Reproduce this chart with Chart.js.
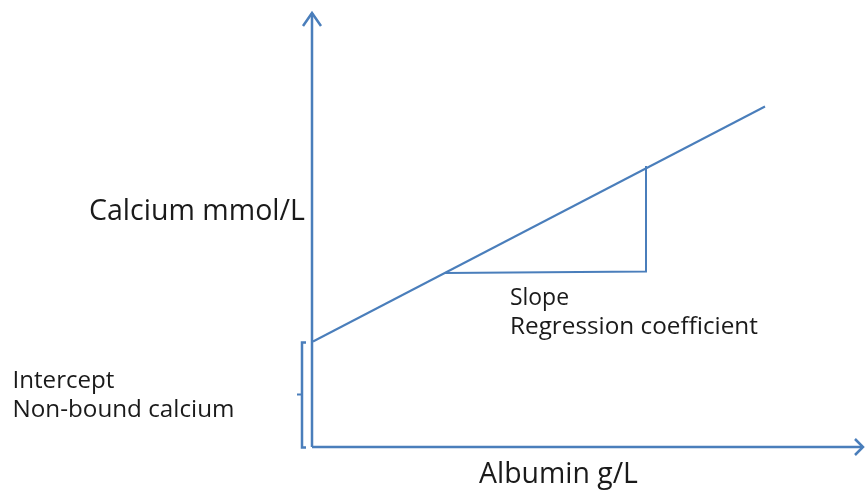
<!DOCTYPE html>
<html>
<head>
<meta charset="utf-8">
<title>Calcium vs Albumin</title>
<script src="https://cdn.jsdelivr.net/npm/chart.js"></script>
<style>
  html, body { margin: 0; padding: 0; background: #fff; }
  canvas { display: block; }
</style>
</head>
<body>
<canvas id="myChart" width="865" height="491"></canvas>
<script>
// diagram coordinates, origin where the two axes meet
const axisX = [[0, 0], [551, 0]];
const axisXArrow = [[543, 8], [551, 0], [543, -8]];
const axisY = [[0, 0], [0, 434]];
const axisYArrow = [[-9, 421], [0, 434], [9, 421]];
const regression = [[1, 105.5], [453, 340.5]];
const slopeTriangle = [[133, 174], [334, 175.5], [334, 281]];
const interceptBracket = [[-6, 104.5], [-10, 104.5], [-10, -0.5], [-6, -0.5]];
const bracketTick = [[-10, 52.5], [-15, 52.5]];

const labelTexts = ["Calcium mmol/L", "Slope", "Regression coefficient", "Intercept", "Non-bound calcium", "Albumin g/L"];
const labelX = [-223, 198, 198, -299.5, -299.5, 167];
const labelY = [227, 142, 113, 59, 30.5, -36];

const blue = "#4a7ebb";
// width each label takes in the reference, used to fit the font size
const labelWidth = [216, 59, 248, 102, 222, 159];

const toPts = (arr) => arr.map(([x, y]) => ({ x, y }));
const line = (arr, width) => ({
  data: toPts(arr),
  showLine: true,
  borderColor: blue,
  borderWidth: width,
  pointRadius: 0,
  fill: false,
  tension: 0,
});

const textLabels = {
  id: "textLabels",
  afterDatasetsDraw(chart) {
    const { ctx, scales } = chart;
    ctx.save();
    ctx.fillStyle = "#1a1a1a";
    ctx.textBaseline = "alphabetic";
    ctx.textAlign = "left";
    labelTexts.forEach((t, i) => {
      ctx.font = "20px 'Open Sans'";
      const size = 20 * labelWidth[i] / ctx.measureText(t).width;
      ctx.font = size.toFixed(2) + "px 'Open Sans'";
      ctx.fillText(t, scales.x.getPixelForValue(labelX[i]), scales.y.getPixelForValue(labelY[i]));
    });
    ctx.restore();
  },
};

new Chart(document.getElementById("myChart"), {
  type: "scatter",
  data: {
    datasets: [
      line(axisX, 2.5),
      line(axisXArrow, 2.5),
      line(axisY, 2.5),
      line(axisYArrow, 2.5),
      line(regression, 2),
      line(slopeTriangle, 2),
      line(interceptBracket, 2.5),
      line(bracketTick, 2),
    ],
  },
  options: {
    responsive: false,
    animation: false,
    layout: { padding: 0 },
    plugins: { legend: { display: false }, tooltip: { enabled: false } },
    scales: {
      x: { type: "linear", min: -312, max: 553, display: false },
      y: { type: "linear", min: -44, max: 447, display: false },
    },
  },
  plugins: [textLabels],
});
</script>
</body>
</html>
